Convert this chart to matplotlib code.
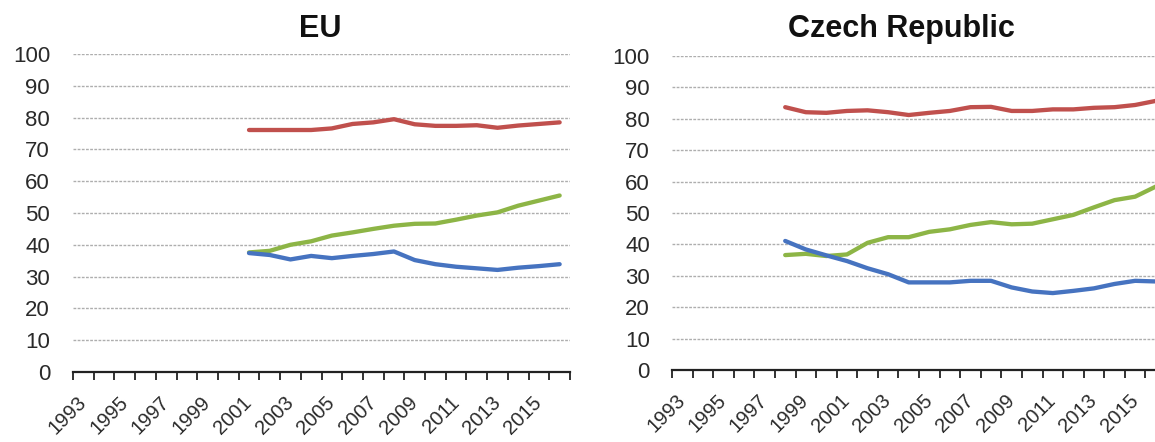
import matplotlib
matplotlib.use("Agg")
import matplotlib.pyplot as plt
import numpy as np

plt.rcParams['font.family'] = ['Liberation Sans', 'DejaVu Sans']

years = list(range(1993, 2017))
tick_years = [str(y) for y in range(1993, 2017, 2)]
y_ticks = list(range(0, 101, 10))

# EU (2001-2016)
eu_years = list(range(2001, 2017))
eu_red = [76.1, 76.1, 76.1, 76.1, 76.6, 78.0, 78.5, 79.5, 77.9, 77.4, 77.4, 77.6, 76.8, 77.5, 78.0, 78.5]
eu_green = [37.6, 38.1, 40.0, 41.1, 42.9, 43.9, 45.0, 46.0, 46.6, 46.7, 47.9, 49.2, 50.2, 52.3, 53.9, 55.5]
eu_blue = [37.4, 36.8, 35.4, 36.5, 35.8, 36.5, 37.1, 37.9, 35.2, 33.9, 33.1, 32.6, 32.1, 32.8, 33.3, 33.9]

# Czech Republic (1998-2016)
cz_years = list(range(1998, 2017))
cz_red = [83.7, 82.1, 81.9, 82.5, 82.7, 82.1, 81.2, 81.9, 82.5, 83.7, 83.8, 82.5, 82.5, 83.0, 83.0, 83.5, 83.7, 84.4, 85.7]
cz_green = [36.6, 37.0, 36.3, 36.8, 40.5, 42.3, 42.3, 44.0, 44.8, 46.2, 47.1, 46.4, 46.6, 48.0, 49.4, 51.8, 54.1, 55.2, 58.4]
cz_blue = [41.1, 38.4, 36.5, 34.7, 32.4, 30.5, 27.9, 27.9, 27.9, 28.4, 28.4, 26.3, 25.0, 24.5, 25.2, 26.0, 27.4, 28.4, 28.2]

RED = '#C0504D'
GREEN = '#8DB546'
BLUE = '#4673C0'

fig = plt.figure(figsize=(11.55, 4.42), dpi=100)

W, H = 1155, 442


def make_ax(left_px, right_px, y0_px, y100_px):
    return fig.add_axes([left_px / W, 1 - y0_px / H, (right_px - left_px) / W, (y0_px - y100_px) / H])


def style(ax, ypad):
    ax.set_xlim(0, len(years))
    ax.set_ylim(0, 100)
    for v in y_ticks[1:]:
        ax.axhline(v, color='#AEAEAE', lw=1.0, linestyle=(0, (2, 1)), zorder=1)
    for s in ['left', 'right', 'top']:
        ax.spines[s].set_visible(False)
    ax.spines['bottom'].set_color('#222222')
    ax.spines['bottom'].set_linewidth(1.6)
    ax.set_yticks(y_ticks)
    ax.set_yticklabels([str(v) for v in y_ticks])
    ax.tick_params(axis='y', length=0, pad=ypad, labelsize=16, labelcolor='#2a2a2a')
    ax.set_xticks(np.arange(0, len(years) + 1))
    ax.set_xticklabels([])
    ax.tick_params(axis='x', which='major', length=6, width=1.3, color='#222222', direction='out')
    pos = [years.index(int(t)) + 0.5 for t in tick_years]
    ax.set_xticks(pos, minor=True)
    ax.set_xticklabels(tick_years, minor=True, rotation=45, ha='right', va='center',
                       rotation_mode='anchor', fontsize=14.5, color='#2a2a2a')
    ax.tick_params(axis='x', which='minor', length=0, pad=20)


def plot_series(ax, yrs, vals, color):
    xs = [years.index(y) + 0.5 for y in yrs]
    ax.plot(xs, vals, color=color, lw=3.1, solid_capstyle='round', solid_joinstyle='round', zorder=3)


ax1 = make_ax(73, 570, 372, 54)
style(ax1, 16.5)
plot_series(ax1, eu_years, eu_red, RED)
plot_series(ax1, eu_years, eu_green, GREEN)
plot_series(ax1, eu_years, eu_blue, BLUE)

ax2 = make_ax(672, 1166, 370, 56)
style(ax2, 16)
plot_series(ax2, cz_years, cz_red, RED)
plot_series(ax2, cz_years, cz_green, GREEN)
plot_series(ax2, cz_years, cz_blue, BLUE)

fig.text(320 / W, 1 - 29 / H, 'EU', ha='center', va='center', fontsize=22, fontweight='bold', color='#111111')
fig.text(901 / W, 1 - 29 / H, 'Czech Republic', ha='center', va='center', fontsize=22, fontweight='bold', color='#111111')

fig.savefig('out.png', dpi=100)
